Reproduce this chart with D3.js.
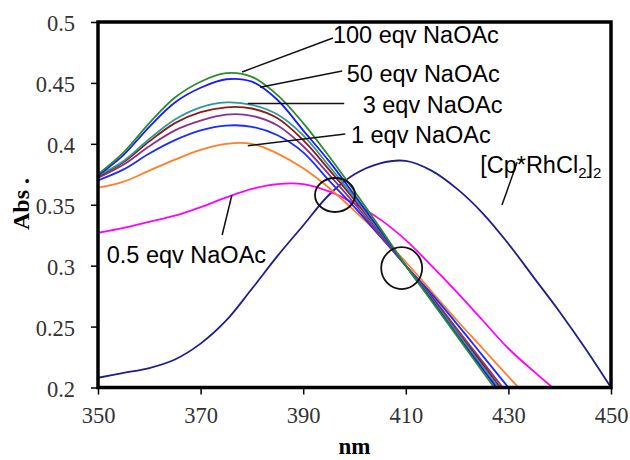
<!DOCTYPE html>
<html><head><meta charset="utf-8">
<script src="https://cdn.jsdelivr.net/npm/d3@7/dist/d3.min.js"></script>
<style>body{margin:0;background:#fff}</style>
</head><body>
<svg id="chart" width="630" height="460"></svg>
<script>
// ---------- DATA ----------
const wavelengths = [350,355,360,365,370,375,380,385,390,395,400,405,410,415,420,425,430,435,440,445,450];
const xTickValues = [350,370,390,410,430,450];
const yTickValues = [0.2,0.25,0.3,0.35,0.4,0.45,0.5];

// [Cp*RhCl2]2 (navy)
const cpRhCl2 = [0.208,0.212,0.216,0.223,0.236,0.255,0.281,0.308,0.333,0.358,0.375,0.384,0.386,0.378,0.363,0.343,0.318,0.290,0.262,0.232,0.200];
// 0.5 eqv NaOAc (magenta)
const eqv0_5 = [0.327,0.331,0.336,0.341,0.348,0.356,0.363,0.367,0.367,0.361,0.351,0.338,0.321,0.300,0.278,0.255,0.232,0.213,0.195,null,null];
// 1 eqv NaOAc (orange)
const eqv1 = [0.364,0.369,0.378,0.387,0.395,0.400,0.400,0.392,0.380,0.364,0.345,0.325,0.303,0.279,0.255,0.232,0.209,0.186,null,null,null];
// unlabelled traces between 1 and 3 eqv
const traceBlue = [0.370,0.379,0.392,0.403,0.411,0.415,0.414,0.407,0.393,0.370,0.348,0.324,0.300,0.277,0.252,0.226,0.200,0.175,null,null,null];
const tracePurple = [0.372,0.383,0.398,0.411,0.419,0.424,0.423,0.415,0.398,0.375,0.351,0.325,0.300,0.275,0.248,0.221,0.194,0.168,null,null,null];
const traceMaroon = [0.373,0.385,0.402,0.417,0.426,0.430,0.429,0.421,0.403,0.379,0.354,0.327,0.300,0.274,0.246,0.219,0.191,0.165,null,null,null];
// 3 eqv NaOAc (teal)
const eqv3 = [0.374,0.386,0.404,0.420,0.430,0.434,0.432,0.424,0.407,0.382,0.356,0.328,0.300,0.273,0.245,0.217,0.189,0.162,null,null,null];
// 50 eqv NaOAc (blue)
const eqv50 = [0.374,0.391,0.414,0.434,0.446,0.453,0.451,0.436,0.411,0.386,0.358,0.329,0.300,0.272,0.243,0.215,0.187,0.160,null,null,null];
// 100 eqv NaOAc (green)
const eqv100 = [0.375,0.393,0.417,0.438,0.451,0.458,0.455,0.440,0.417,0.390,0.361,0.331,0.300,0.271,0.242,0.213,0.184,0.156,null,null,null];

const seriesList = [
  {name:"[Cp*RhCl2]2", values:cpRhCl2, color:"#1f1f8c"},
  {name:"0.5 eqv NaOAc", values:eqv0_5, color:"#ff00ff"},
  {name:"1 eqv NaOAc", values:eqv1, color:"#ff7f27"},
  {name:"trace blue", values:traceBlue, color:"#1a2cff"},
  {name:"trace purple", values:tracePurple, color:"#86338f"},
  {name:"trace maroon", values:traceMaroon, color:"#8b1c1c"},
  {name:"3 eqv NaOAc", values:eqv3, color:"#2e9a9a"},
  {name:"50 eqv NaOAc", values:eqv50, color:"#1a1aff"},
  {name:"100 eqv NaOAc", values:eqv100, color:"#2a8c2a"}
];

// isosbestic markers (nm, Abs)
const markerNm = [396.2, 409.2];
const markerAbs = [0.358, 0.298];

// ---------- CHART ----------
const svg = d3.select("#chart");
const x = d3.scaleLinear().domain([350,450]).range([98,611]);
const y = d3.scaleLinear().domain([0.2,0.5]).range([387.5,22]);

svg.append("defs").append("clipPath").attr("id","plotclip")
  .append("rect").attr("x",x(350)).attr("y",y(0.5)).attr("width",x(450)-x(350)).attr("height",y(0.2)-y(0.5));

const serif = "'Liberation Serif','Times New Roman',serif";
const sans = "'Liberation Sans',Arial,sans-serif";

// axes
const yAxis = svg.append("g").attr("transform",`translate(${x(350)},0)`)
  .call(d3.axisLeft(y).tickValues(yTickValues).tickSize(7).tickSizeOuter(0).tickPadding(16).tickFormat(d=>String(d)));
const xAxis = svg.append("g").attr("transform",`translate(0,${y(0.2)})`)
  .call(d3.axisBottom(x).tickValues(xTickValues).tickSize(7).tickSizeOuter(0).tickPadding(13).tickFormat(d=>String(d)));
[xAxis,yAxis].forEach(g=>{
  g.select(".domain").remove();
  g.selectAll(".tick line").attr("stroke","#000").attr("stroke-width",1.5);
  g.selectAll(".tick text").attr("fill","#333").style("font-family",serif).style("font-size","22.5px");
});
yAxis.selectAll(".tick text").attr("dy","0.38em");

// lines
const line = d3.line()
  .defined(d=>d[1]!==null)
  .x(d=>x(d[0])).y(d=>y(d[1]))
  .curve(d3.curveCatmullRom.alpha(0.5));
const lines = svg.append("g").attr("clip-path","url(#plotclip)");
seriesList.forEach(s=>{
  lines.append("path")
    .datum(wavelengths.map((w,i)=>[w,s.values[i]]))
    .attr("d",line).attr("fill","none")
    .attr("stroke",s.color).attr("stroke-width",1.8);
});

// frame
svg.append("rect").attr("x",x(350)).attr("y",y(0.5))
  .attr("width",x(450)-x(350)).attr("height",y(0.2)-y(0.5))
  .attr("fill","none").attr("stroke","#000").attr("stroke-width",3.5);

// isosbestic circles
svg.append("ellipse").attr("cx",x(markerNm[0])).attr("cy",y(markerAbs[0])).attr("rx",20).attr("ry",17)
  .attr("fill","none").attr("stroke","#111").attr("stroke-width",1.8);
svg.append("ellipse").attr("cx",x(markerNm[1])).attr("cy",y(markerAbs[1])).attr("rx",20.5).attr("ry",21)
  .attr("fill","none").attr("stroke","#111").attr("stroke-width",1.8);

// annotations (anchor on curve -> leader end, text position), all in data units
const annotations = [
  {text:"100 eqv NaOAc", from:[378.1,0.459], to:[395.8,0.4869], at:[395.8,0.4828]},
  {text:"50 eqv NaOAc",  from:[381.6,0.4465], to:[397.6,0.4598], at:[398.5,0.451]},
  {text:"3 eqv NaOAc",   from:[379.2,0.4331], to:[398.0,0.4331], at:[401.6,0.4256]},
  {text:"1 eqv NaOAc",   from:[379.2,0.3985], to:[398.2,0.4081], at:[399.3,0.4004]},
  {text:"0.5 eqv NaOAc", from:[376.1,0.358], to:[374.2,0.3252], at:[351.7,0.302]}
];
annotations.forEach(a=>{
  svg.append("line").attr("x1",x(a.from[0])).attr("y1",y(a.from[1]))
    .attr("x2",x(a.to[0])).attr("y2",y(a.to[1])).attr("stroke","#111").attr("stroke-width",1.5);
  svg.append("text").attr("x",x(a.at[0])).attr("y",y(a.at[1]))
    .style("font-family",sans).style("font-size","23.5px").attr("fill","#000").text(a.text);
});
// [Cp*RhCl2]2 label
svg.append("line").attr("x1",x(431.7)).attr("y1",y(0.3848)).attr("x2",x(428.75)).attr("y2",y(0.3497))
  .attr("stroke","#111").attr("stroke-width",1.5);
const cp = svg.append("text").attr("x",x(424.5)).attr("y",y(0.3761))
  .style("font-family",sans).style("font-size","23.5px").attr("fill","#000");
cp.append("tspan").text("[Cp*RhCl");
cp.append("tspan").attr("dy",5).style("font-size","15px").text("2");
cp.append("tspan").attr("dy",-5).text("]");
cp.append("tspan").attr("dy",5).style("font-size","15px").text("2");

// axis titles
svg.append("text").attr("x",(x(350)+x(450))/2).attr("y",454).attr("text-anchor","middle")
  .style("font-family",serif).style("font-size","23px").style("font-weight","bold").text("nm");
svg.append("text").attr("transform","translate(29,204) rotate(-90)").attr("text-anchor","middle")
  .style("font-family",serif).style("font-size","24px").style("font-weight","bold").text("Abs .");
</script>
</body></html>
